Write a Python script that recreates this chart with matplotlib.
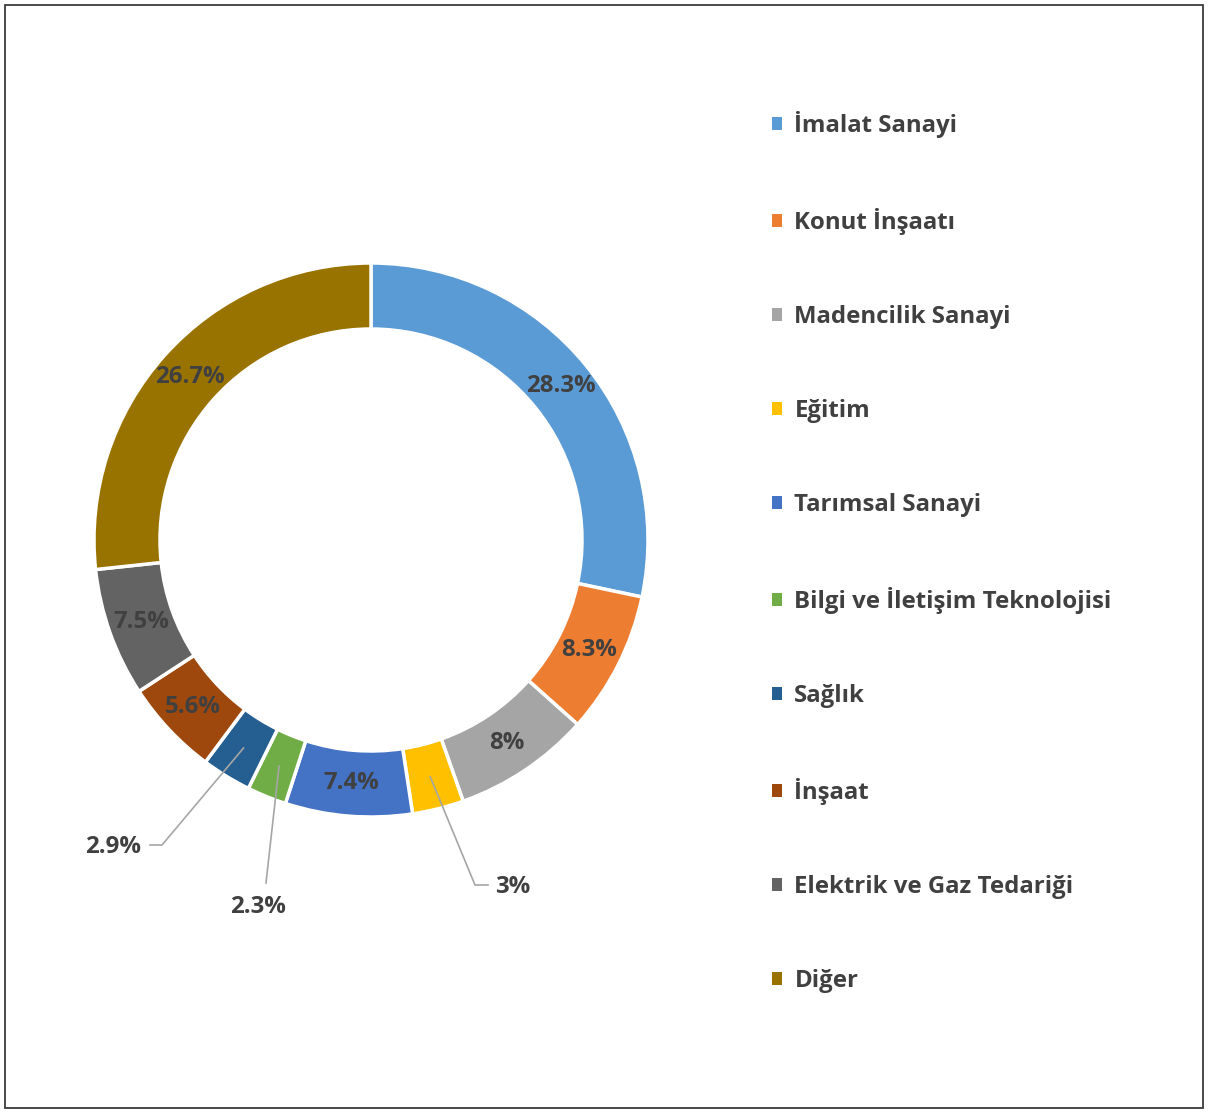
import matplotlib
matplotlib.use("Agg")
import matplotlib.pyplot as plt
from matplotlib.patches import Rectangle
import numpy as np

categories = ["İmalat Sanayi", "Konut İnşaatı", "Madencilik Sanayi", "Eğitim",
              "Tarımsal Sanayi", "Bilgi ve İletişim Teknolojisi", "Sağlık",
              "İnşaat", "Elektrik ve Gaz Tedariği", "Diğer"]
values = [28.3, 8.3, 8, 3, 7.4, 2.3, 2.9, 5.6, 7.5, 26.7]
label_texts = ["28.3%", "8.3%", "8%", "3%", "7.4%", "2.3%", "2.9%", "5.6%", "7.5%", "26.7%"]
colors = ["#5B9BD5", "#ED7D31", "#A5A5A5", "#FFC000", "#4472C4",
          "#70AD47", "#255E91", "#9E480E", "#636363", "#997300"]

plt.rcParams['font.family'] = ['Open Sans', 'DejaVu Sans']
TXT = "#404040"

W, H = 1208, 1113
fig = plt.figure(figsize=(W / 100, H / 100), dpi=100)

fig.patches.append(Rectangle((5 / W, 5 / H), 1198 / W, 1103 / H, transform=fig.transFigure,
                             fill=False, edgecolor="#3a3a3a", linewidth=1.3))

cx, cy, R = 371, 540, 277
ax = fig.add_axes([(cx - R) / W, (H - cy - R) / H, 2 * R / W, 2 * R / H])
width = 66 / R
wedges, _ = ax.pie(values, colors=colors, startangle=90, counterclock=False, radius=1,
                   wedgeprops=dict(width=width, edgecolor="white", linewidth=2.5))
ax.set_xlim(-1, 1)
ax.set_ylim(-1, 1)
ax.set_aspect("equal")
ax.axis("off")

mid_r = 1 - width / 2
fs = 17.3
outside = {3: (513, 887), 5: (258, 907), 6: (113, 847)}
cum = 0
for i, v in enumerate(values):
    ang = np.deg2rad(90 - (cum + v / 2) * 3.6)
    cum += v
    x, y = mid_r * np.cos(ang), mid_r * np.sin(ang)
    if i not in outside:
        ax.text(x, y, label_texts[i], ha="center", va="center", fontsize=fs,
                fontweight="bold", color=TXT)
    else:
        px, py = outside[i]
        lx = (px - cx) / R
        ly = -(py - cy) / R
        if i == 3:
            pts = [(x, y), ((475 - cx) / R, -(885 - cy) / R), ((488 - cx) / R, -(885 - cy) / R)]
        elif i == 5:
            pts = [(x, y), ((266 - cx) / R, -(883 - cy) / R)]
        else:
            pts = [(x, y), ((162 - cx) / R, -(845 - cy) / R), ((150 - cx) / R, -(845 - cy) / R)]
        xs, ys = zip(*pts)
        ax.plot(xs, ys, color="#A6A6A6", linewidth=1.2, clip_on=False)
        ax.text(lx, ly, label_texts[i], ha="center", va="center", fontsize=fs,
                fontweight="bold", color=TXT, clip_on=False)

leg = fig.legend(wedges, categories, loc="upper left",
                 bbox_to_anchor=(762 / W, 1 - 101 / H),
                 frameon=False, fontsize=fs, handlelength=0.45, handleheight=0.45,
                 handletextpad=0.5, labelspacing=2.915, borderaxespad=0)
for t in leg.get_texts():
    t.set_color(TXT)
    t.set_fontweight("bold")
for h in leg.legend_handles:
    h.set_edgecolor("none")

fig.savefig("out.png", dpi=100)
